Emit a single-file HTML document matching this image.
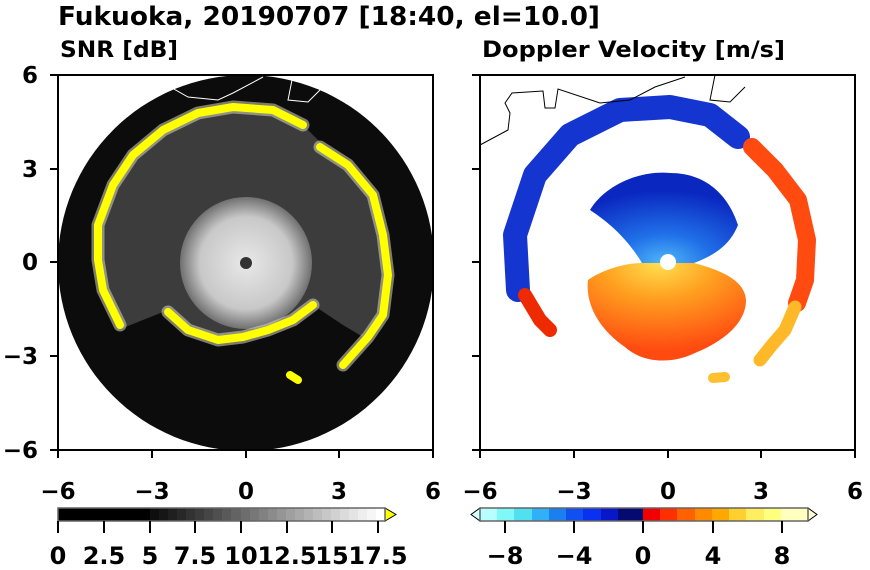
<!DOCTYPE html>
<html><head><meta charset="utf-8"><style>
html,body{margin:0;padding:0;background:#fff;}
svg{display:block;font-family:"DejaVu Sans","Liberation Sans",sans-serif;font-weight:bold;}
</style></head><body>
<svg width="870" height="570" viewBox="0 0 870 570" xmlns="http://www.w3.org/2000/svg">
<defs>
<radialGradient id="gin" cx="0.5" cy="0.5" r="0.5">
<stop offset="0" stop-color="#e8e8e8"/><stop offset="0.7" stop-color="#c8c8c8"/><stop offset="1" stop-color="#707070"/>
</radialGradient>
<radialGradient id="bin" cx="0.5" cy="1" r="0.8">
<stop offset="0" stop-color="#50b8f8"/><stop offset="0.4" stop-color="#2070e8"/><stop offset="1" stop-color="#0a28c0"/>
</radialGradient>
<radialGradient id="oin" cx="0.45" cy="0" r="0.9">
<stop offset="0" stop-color="#ffe050"/><stop offset="0.4" stop-color="#ffa020"/><stop offset="1" stop-color="#ff4a10"/>
</radialGradient>
</defs>
<text x="58" y="25" font-size="26" textLength="542" lengthAdjust="spacingAndGlyphs">Fukuoka, 20190707 [18:40, el=10.0]</text>
<text x="60" y="57" font-size="22" textLength="118" lengthAdjust="spacingAndGlyphs">SNR [dB]</text>
<text x="482" y="57" font-size="22" textLength="303" lengthAdjust="spacingAndGlyphs">Doppler Velocity [m/s]</text>

<!-- LEFT PANEL -->
<g transform="translate(58,75)">
<circle cx="188" cy="188" r="188" fill="#0c0c0c"/>
<path d="M60,255 L45,215 L40,185 L40,150 L55,110 L75,80 L105,55 L140,38 L175,32 L215,35 L245,50 L265,70 L290,90 L315,120 L325,160 L330,200 L325,240 L310,265 L285,250 L255,230 L235,245 L210,255 L185,262 L160,265 L130,255 L110,235 Z" fill="#3c3c3c"/>
<circle cx="188" cy="188" r="66" fill="url(#gin)"/>
<g fill="none" stroke="#d8d8c0" stroke-width="13" stroke-linejoin="round" stroke-linecap="round" opacity="0.55">
<path d="M62,250 L45,215 L40,185 L40,150 L55,110 L75,80 L105,55 L140,38 L175,32 L215,35 L245,50"/>
<path d="M262,72 L290,90 L315,120 L325,160 L330,200 L325,240 L310,262 L285,290"/>
<path d="M110,237 L130,255 L160,265 L185,262 L210,255 L235,245 L255,230"/>
</g>
<g fill="none" stroke="#ffff00" stroke-width="8" stroke-linejoin="round" stroke-linecap="round">
<path d="M62,250 L45,215 L40,185 L40,150 L55,110 L75,80 L105,55 L140,38 L175,32 L215,35 L245,50"/>
<path d="M262,72 L290,90 L315,120 L325,160 L330,200 L325,240 L310,262 L285,290"/>
<path d="M110,237 L130,255 L160,265 L185,262 L210,255 L235,245 L255,230"/>
<path d="M232,300 L240,305"/>
</g>
<circle cx="188" cy="188" r="6" fill="#333"/>
<path d="M100,5 L130,22 L160,25 L175,18 L205,2 M235,0 L230,25 L250,27 L265,12" fill="none" stroke="#fff" stroke-width="1"/>
</g>

<!-- RIGHT PANEL -->
<g transform="translate(480,75)">
<path d="M162,188 C145,160 125,145 110,135 C125,110 160,95 190,98 C230,98 250,125 258,150 C250,170 235,180 214,188 Z" fill="url(#bin)"/>
<path d="M162,188 L214,188 C240,195 265,205 266,225 C266,250 240,268 215,278 C195,288 165,290 145,272 C120,255 105,230 108,205 C122,195 145,188 162,188 Z" fill="url(#oin)"/>
<g fill="none" stroke-linejoin="round" stroke-linecap="round">
<path d="M38,215 L35,160 L55,100 L90,60 L140,35 L190,32 L230,40 L258,62" stroke="#1535d0" stroke-width="24"/>
<path d="M272,72 L295,95 L318,125 L327,165 L325,205 L317,228" stroke="#ff4a10" stroke-width="18"/>
<path d="M315,232 L305,255 L292,270 L280,285" stroke="#ffb828" stroke-width="13"/>
<path d="M45,220 L60,245 L70,255" stroke="#ee2a00" stroke-width="14"/>
<path d="M233,303 L245,302" stroke="#ffc030" stroke-width="10"/>
</g>
<circle cx="188" cy="187" r="8" fill="#fff"/>
<path d="M0,70 L28,55 L30,38 L25,28 L32,18 L63,16 L65,33 L75,33 L78,14 L120,28 L150,25 L175,12 L205,2 M235,0 L230,25 L250,27 L265,12" fill="none" stroke="#000" stroke-width="1"/>
</g>

<!-- Axes frames -->
<g fill="none" stroke="#000" stroke-width="2">
<rect x="58" y="75" width="375" height="375"/>
<rect x="480" y="75" width="375" height="375"/>
</g>
<g stroke="#000" stroke-width="2">
<path d="M58,450v8M152,450v8M246,450v8M339,450v8M433,450v8M58,75h-8M58,169h-8M58,262h-8M58,356h-8M58,450h-8"/>
<path d="M480,450v8M574,450v8M668,450v8M761,450v8M855,450v8M480,75h-8M480,169h-8M480,262h-8M480,356h-8M480,450h-8"/>
</g>
<g font-size="23" text-anchor="middle">
<text x="58" y="499">−6</text><text x="152" y="499">−3</text><text x="246" y="499">0</text><text x="339" y="499">3</text><text x="433" y="499">6</text>
<text x="480" y="499">−6</text><text x="574" y="499">−3</text><text x="668" y="499">0</text><text x="761" y="499">3</text><text x="855" y="499">6</text>
</g>
<g font-size="23" text-anchor="end">
<text x="38" y="83">6</text><text x="38" y="177">3</text><text x="38" y="270">0</text><text x="38" y="364">−3</text><text x="38" y="458">−6</text>
</g>

<!-- Left colorbar -->
<rect x="58" y="508" width="92" height="13" fill="#000"/>
<g>
<rect x="150" y="508" width="10" height="13" fill="#0e0e0e"/><rect x="159" y="508" width="10" height="13" fill="#161616"/><rect x="168" y="508" width="10" height="13" fill="#1f1f1f"/><rect x="177" y="508" width="10" height="13" fill="#282828"/><rect x="186" y="508" width="10" height="13" fill="#323232"/><rect x="195" y="508" width="10" height="13" fill="#3b3b3b"/><rect x="204" y="508" width="10" height="13" fill="#454545"/><rect x="213" y="508" width="10" height="13" fill="#4f4f4f"/><rect x="222" y="508" width="10" height="13" fill="#595959"/><rect x="231" y="508" width="10" height="13" fill="#636363"/><rect x="241" y="508" width="10" height="13" fill="#6d6d6d"/><rect x="250" y="508" width="10" height="13" fill="#777"/><rect x="259" y="508" width="10" height="13" fill="#818181"/><rect x="268" y="508" width="10" height="13" fill="#8b8b8b"/><rect x="277" y="508" width="10" height="13" fill="#959595"/><rect x="286" y="508" width="10" height="13" fill="#9f9f9f"/><rect x="295" y="508" width="10" height="13" fill="#a9a9a9"/><rect x="304" y="508" width="10" height="13" fill="#b3b3b3"/><rect x="313" y="508" width="10" height="13" fill="#bdbdbd"/><rect x="322" y="508" width="10" height="13" fill="#c7c7c7"/><rect x="331" y="508" width="10" height="13" fill="#d1d1d1"/><rect x="340" y="508" width="10" height="13" fill="#dbdbdb"/><rect x="349" y="508" width="10" height="13" fill="#e4e4e4"/><rect x="358" y="508" width="10" height="13" fill="#eeeeee"/><rect x="367" y="508" width="10" height="13" fill="#f6f6f6"/><rect x="376" y="508" width="9" height="13" fill="#fff"/>
</g>
<path d="M385,508 L396,514.5 L385,521 Z" fill="#ffff00" stroke="#000" stroke-width="1"/>
<rect x="58" y="508" width="327" height="13" fill="none" stroke="#666" stroke-width="1.5"/>
<path d="M58,521v12M104,521v12M150,521v12M195,521v12M241,521v12M287,521v12M332,521v12M378,521v12" stroke="#000" stroke-width="2"/>
<g font-size="24" text-anchor="middle">
<text x="58" y="564">0</text><text x="104" y="564">2.5</text><text x="150" y="564">5</text><text x="195" y="564">7.5</text><text x="241" y="564">10</text><text x="287" y="564">12.5</text><text x="332" y="564">15</text><text x="378" y="564">17.5</text>
</g>

<!-- Right colorbar -->
<path d="M480,508 L471,514.5 L480,521 Z" fill="#d8ffff" stroke="#000" stroke-width="1"/>
<path d="M808,508 L817,514.5 L808,521 Z" fill="#ffffd8" stroke="#000" stroke-width="1"/>
<g>
<rect x="480" y="508" width="18" height="13" fill="#b8ffff"/><rect x="497" y="508" width="18" height="13" fill="#80f8f8"/><rect x="514" y="508" width="18" height="13" fill="#50e0f0"/><rect x="532" y="508" width="18" height="13" fill="#30b0f8"/><rect x="549" y="508" width="18" height="13" fill="#1a80f0"/><rect x="566" y="508" width="18" height="13" fill="#1050f0"/><rect x="583" y="508" width="18" height="13" fill="#0a30f0"/><rect x="601" y="508" width="18" height="13" fill="#0818c8"/><rect x="618" y="508" width="26" height="13" fill="#040a70"/>
<rect x="643" y="508" width="18" height="13" fill="#f00000"/><rect x="660" y="508" width="18" height="13" fill="#ff3000"/><rect x="677" y="508" width="18" height="13" fill="#ff6000"/><rect x="695" y="508" width="18" height="13" fill="#ff8a00"/><rect x="712" y="508" width="18" height="13" fill="#ffa800"/><rect x="729" y="508" width="18" height="13" fill="#ffd030"/><rect x="746" y="508" width="18" height="13" fill="#ffee60"/><rect x="764" y="508" width="18" height="13" fill="#ffff80"/><rect x="781" y="508" width="27" height="13" fill="#ffffc0"/>
</g>
<rect x="480" y="508" width="328" height="13" fill="none" stroke="#666" stroke-width="1.5"/>
<path d="M505,521v12M574,521v12M643,521v12M713,521v12M782,521v12" stroke="#000" stroke-width="2"/>
<g font-size="24" text-anchor="middle">
<text x="505" y="564">−8</text><text x="574" y="564">−4</text><text x="643" y="564">0</text><text x="713" y="564">4</text><text x="782" y="564">8</text>
</g>
</svg>
</body></html>
